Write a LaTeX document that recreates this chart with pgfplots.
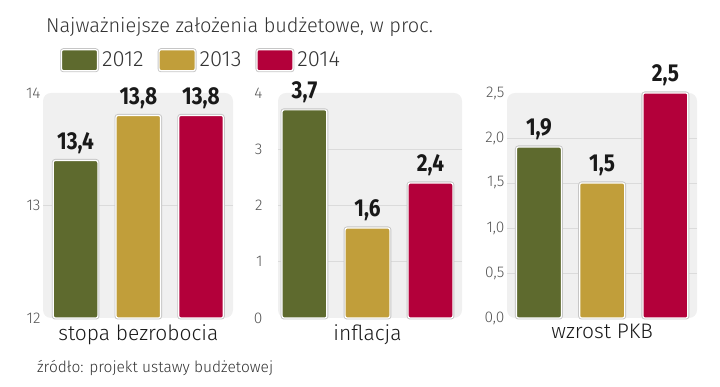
\documentclass[border=0pt]{standalone}
\usepackage{pgfplots}
\pgfplotsset{compat=1.18}
\usepackage{fontspec}
\setmainfont{Fira Sans Light}
\newfontfamily\valfont{Fira Sans Bold}[FakeStretch=0.85]
\definecolor{cgreen}{HTML}{5E6A2E}
\definecolor{cgold}{HTML}{C19E3A}
\definecolor{cred}{HTML}{B3003A}
\definecolor{ctick}{HTML}{555555}
\definecolor{ctext}{HTML}{333333}
\begin{document}
\begin{tikzpicture}
\useasboundingbox (0pt,0pt) rectangle (720pt,387pt);
\pgfplotsset{
  panel/.style={
    scale only axis, height=225pt,
    ybar, bar shift=0pt, bar width=0.71,
    axis line style={draw=none},
    axis background/.style={fill=gray!12, rounded corners=8pt},
    xtick=\empty,
    major tick length=0pt,
    clip=false,
    yticklabel style={font=\fontsize{15.5}{15.5}\selectfont, text=ctick},
    /pgf/number format/assume math mode=true,
    extra y tick labels={},
    extra y tick style={grid=major, major tick length=0pt},
    grid style={draw=gray!28, line width=0.6pt},
    nodes near coords,
    nodes near coords style={font=\valfont\fontsize{24.5}{24.5}\selectfont, text=black!90, inner sep=0pt, yshift=6.5pt, anchor=south,
      /pgf/number format/use comma, /pgf/number format/fixed, /pgf/number format/fixed zerofill, /pgf/number format/precision=1},
    every axis plot/.append style={draw=white, line width=1.2pt, rounded corners=2pt,
      preaction={draw=gray!45, line width=3pt, rounded corners=2pt}},
    xlabel style={font=\fontsize{21}{21}\selectfont, text=black!90, anchor=north, inner sep=0pt, yshift=-6pt},
  },
}
% Panel 1
\begin{axis}[panel, at={(43pt,69pt)}, anchor=south west, width=190pt,
  xmin=-0.52, xmax=2.51, ymin=12, ymax=14, ytick={12,13,14}, extra y ticks={13},
  yticklabel style={xshift=1pt},
  xlabel={stopa bezrobocia}, xlabel style={at={(axis cs:1,12)}},
  legend style={draw=none, fill=none, at={(axis description cs:0.02,1.2)}, xshift=13pt, anchor=north west,
    legend columns=3, inner sep=0pt, font=\fontsize{22}{22}\selectfont, text=ctext,
    /tikz/every even column/.append style={column sep=11pt},
    nodes={inner sep=3pt}},
  legend image code/.code={\draw[#1] (0pt,-10.5pt) rectangle (36pt,10.5pt);},
]
\addplot[fill=cgreen] coordinates {(0,13.4)};
\addplot[fill=cgold] coordinates {(1,13.8)};
\addplot[fill=cred] coordinates {(2,13.8)};
\legend{2012,2013,2014}
\end{axis}
% Panel 2
\begin{axis}[panel, at={(278pt,69pt)}, anchor=south west, width=184pt,
  xmin=-0.42, xmax=2.5, ymin=0, ymax=4, ytick={0,1,2,3,4}, extra y ticks={1,2,3},
  yticklabel style={xshift=-12pt},
  xlabel={inflacja}, xlabel style={at={(axis cs:1,0)}},
]
\addplot[fill=cgreen] coordinates {(0,3.7)};
\addplot[fill=cgold] coordinates {(1,1.6)};
\addplot[fill=cred] coordinates {(2,2.4)};
\end{axis}
% Panel 3
\begin{axis}[panel, at={(507pt,69pt)}, anchor=south west, width=190pt,
  xmin=-0.505, xmax=2.5, ymin=0, ymax=2.5, ytick={0,0.5,1,1.5,2,2.5}, extra y ticks={0.5,1,1.5,2},
  yticklabel style={xshift=1pt, /pgf/number format/use comma, /pgf/number format/fixed, /pgf/number format/fixed zerofill, /pgf/number format/precision=1},
  xlabel={wzrost PKB}, xlabel style={at={(axis cs:1,0)}},
]
\addplot[fill=cgreen] coordinates {(0,1.9)};
\addplot[fill=cgold] coordinates {(1,1.5)};
\addplot[fill=cred] coordinates {(2,2.5)};
\end{axis}
\node[anchor=base west, inner sep=0pt, font=\fontsize{20}{20}\selectfont, text=ctext] at (46pt,354pt) {Najważniejsze założenia budżetowe, w proc.};
\node[anchor=base west, inner sep=0pt, font=\fontsize{15.5}{15.5}\selectfont, text=ctext] at (37pt,14pt) {źródło: projekt ustawy budżetowej};
\end{tikzpicture}
\end{document}
